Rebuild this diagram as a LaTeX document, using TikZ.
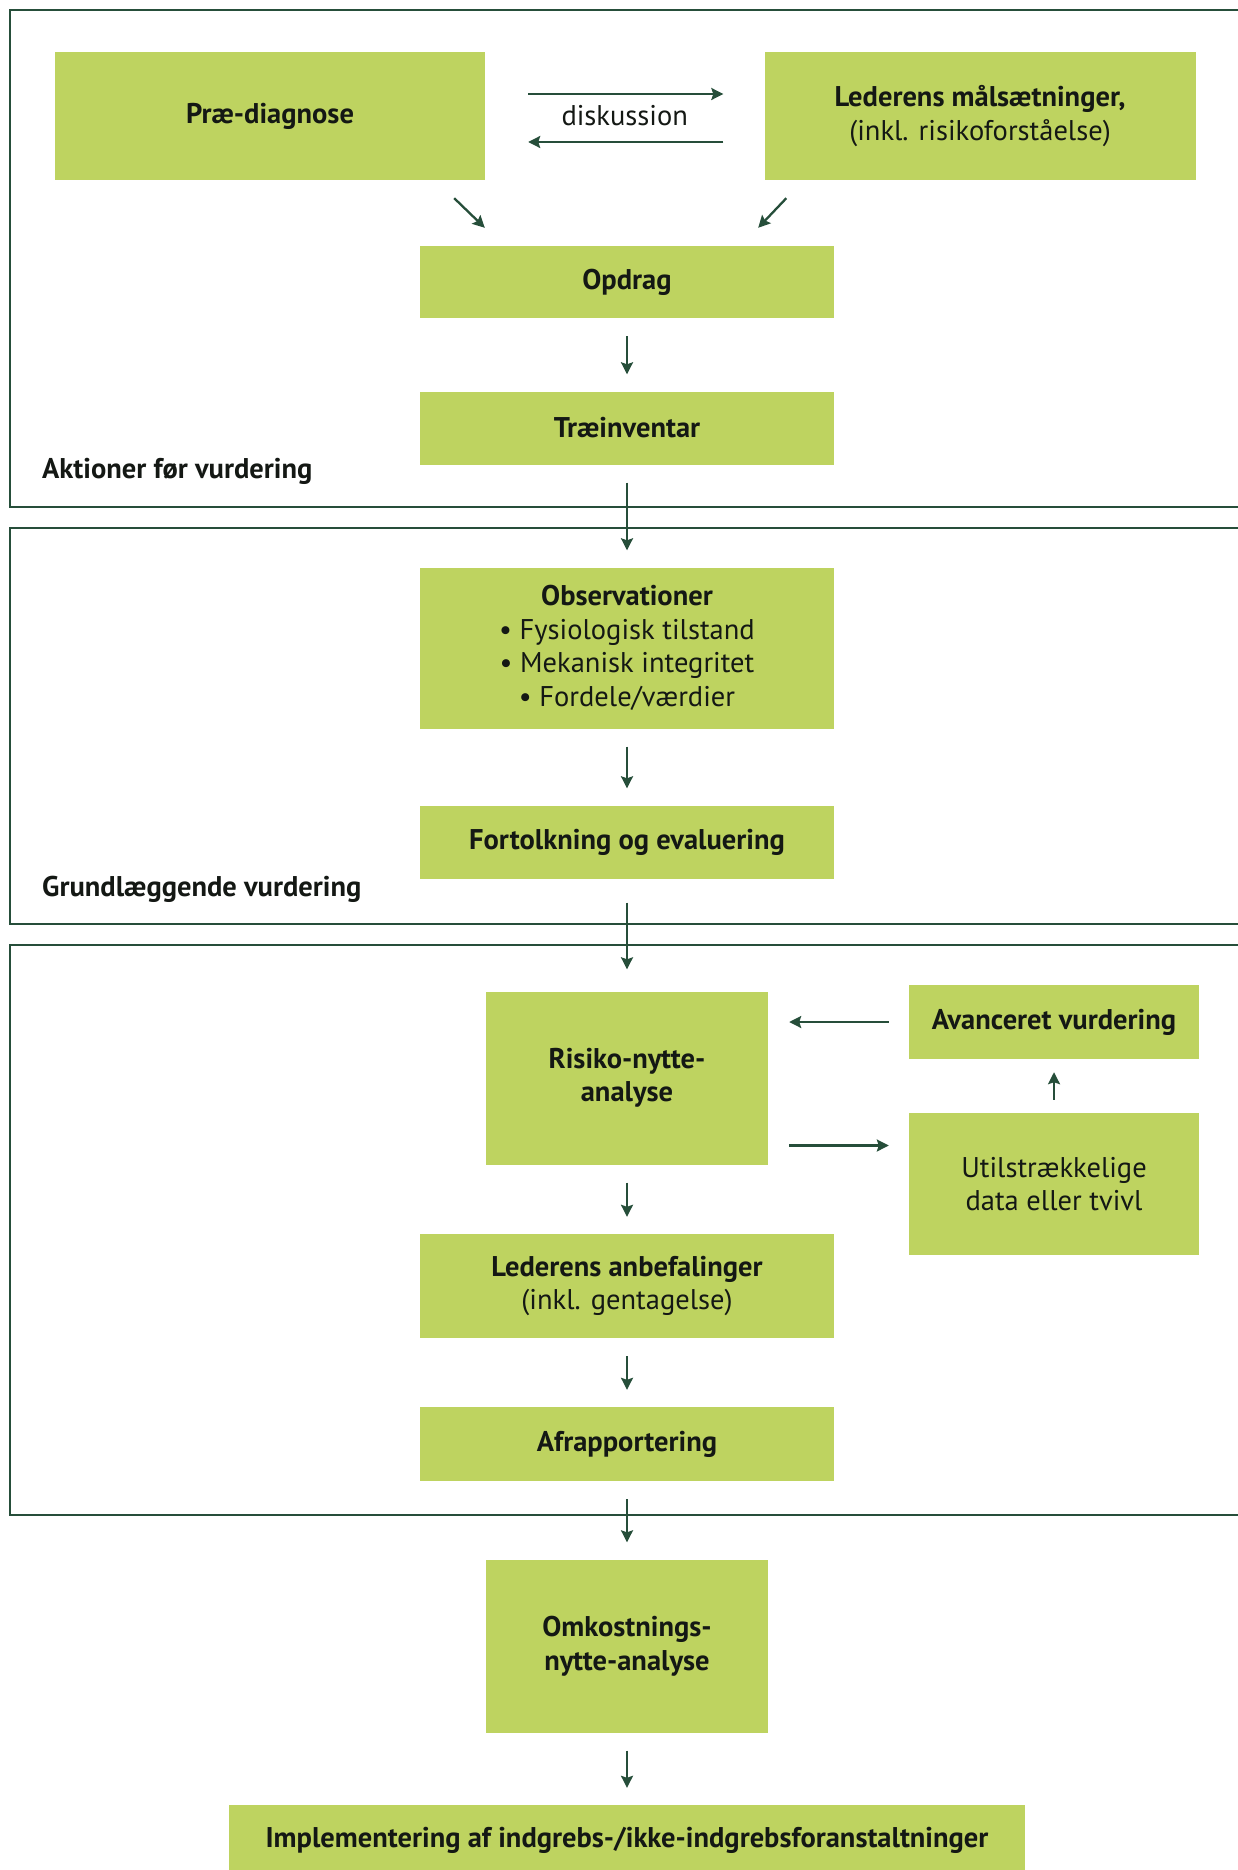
\documentclass[tikz,border=0pt]{standalone}
\usepackage{fontspec}
\setmainfont{PT Sans}
\usetikzlibrary{arrows.meta}
\definecolor{leaf}{RGB}{190,211,96}
\definecolor{pine}{RGB}{38,78,58}
\definecolor{ink}{RGB}{20,24,20}

\begin{document}
\begin{tikzpicture}[x=1pt, y=-1pt,
    box/.style={fill=leaf, inner sep=0pt, align=center, text=ink, font=\fontsize{28.5}{33.5}\selectfont},
    flow/.style={draw=pine, line width=2.3pt, -{Stealth[length=12pt,width=12pt,inset=2pt]}, shorten <=18pt, shorten >=17pt},
    frame/.style={draw=pine, line width=2.8pt},
    tag/.style={anchor=west, inner sep=0pt, text=ink, font=\fontsize{28.5}{33}\selectfont\bfseries}]
    \useasboundingbox (0,0) rectangle (1238,1870);

    % Frames
    \draw[frame] (10,10) rectangle (1260,507);
    \draw[frame] (10,528) rectangle (1260,924);
    \draw[frame] (10,945) rectangle (1260,1515);

    % Boxes
    \node[box, minimum width=430pt, minimum height=128pt] (pre) at (270,116) {\bfseries Præ-diagnose};
    \node[box, minimum width=431pt, minimum height=128pt] (maal) at (980,116) {\bfseries Lederens målsætninger,\\(inkl. risikoforståelse)};
    \node[box, minimum width=414pt, minimum height=72pt] (opdrag) at (627,282) {\bfseries Opdrag};
    \node[box, minimum width=414pt, minimum height=73pt] (trae) at (627,428) {\bfseries Træinventar};
    \node[box, minimum width=414pt, minimum height=161pt] (obs) at (627,648) {\textbf{Observationer}\\• Fysiologisk tilstand\\• Mekanisk integritet\\• Fordele/værdier};
    \node[box, minimum width=414pt, minimum height=73pt] (fort) at (627,842) {\bfseries Fortolkning og evaluering};
    \node[box, minimum width=282pt, minimum height=173pt] (risiko) at (627,1078) {\bfseries Risiko-nytte-\\\bfseries analyse};
    \node[box, minimum width=290pt, minimum height=74pt] (avanc) at (1054,1022) {\bfseries Avanceret vurdering};
    \node[box, minimum width=290pt, minimum height=142pt] (util) at (1054,1184) {Utilstrækkelige\\data eller tvivl};
    \node[box, minimum width=414pt, minimum height=104pt] (leder) at (627,1286) {\textbf{Lederens anbefalinger}\\(inkl. gentagelse)};
    \node[box, minimum width=414pt, minimum height=74pt] (afrap) at (627,1444) {\bfseries Afrapportering};
    \node[box, minimum width=282pt, minimum height=173pt] (omk) at (627,1646) {\bfseries Omkostnings-\\\bfseries nytte-analyse};
    \node[box, minimum width=796pt, minimum height=70pt] (impl) at (627,1840) {\bfseries Implementering af indgrebs-/ikke-indgrebsforanstaltninger};

    % Section labels
    \node[tag] (akt) at (42,471) {Aktioner før vurdering};
    \node[tag] (grund) at (42,889) {Grundlæggende vurdering};

    % Discussion
    \path (pre) -- (maal) node[midway, text=ink, font=\fontsize{28.5}{33}\selectfont] (disk) {diskussion};
    \draw[flow, shorten <=43pt, shorten >=41pt] ([yshift=22pt]pre.east) -- ([yshift=22pt]maal.west);
    \draw[flow, shorten <=41pt, shorten >=43pt] ([yshift=-26pt]maal.west) -- ([yshift=-26pt]pre.east);

    % Arrows
    \draw[flow, shorten <=0pt, shorten >=0pt] ([shift={(-31,18)}]pre.south east) -- ([shift={(65,-18)}]opdrag.north west);
    \draw[flow, shorten <=0pt, shorten >=0pt] ([shift={(22,18)}]maal.south west) -- ([shift={(-76,-18)}]opdrag.north east);
    \draw[flow] (opdrag) -- (trae);
    \draw[flow] (trae) -- (obs);
    \draw[flow] (obs) -- (fort);
    \draw[flow, shorten <=24pt, shorten >=22pt] (fort) -- (risiko);
    \draw[flow, shorten <=20pt, shorten >=21pt] (avanc.west) -- (avanc.west -| risiko.east);
    \draw[flow, shorten <=21pt, shorten >=20pt] ([yshift=-67.5pt]risiko.east) -- ([yshift=-67.5pt]risiko.east -| util.west);
    \draw[flow, shorten <=13pt, shorten >=13pt] (util) -- (avanc);
    \draw[flow] (risiko) -- (leder);
    \draw[flow] (leder) -- (afrap);
    \draw[flow] (afrap) -- (omk);
    \draw[flow] (omk) -- (impl);
\end{tikzpicture}
\end{document}
